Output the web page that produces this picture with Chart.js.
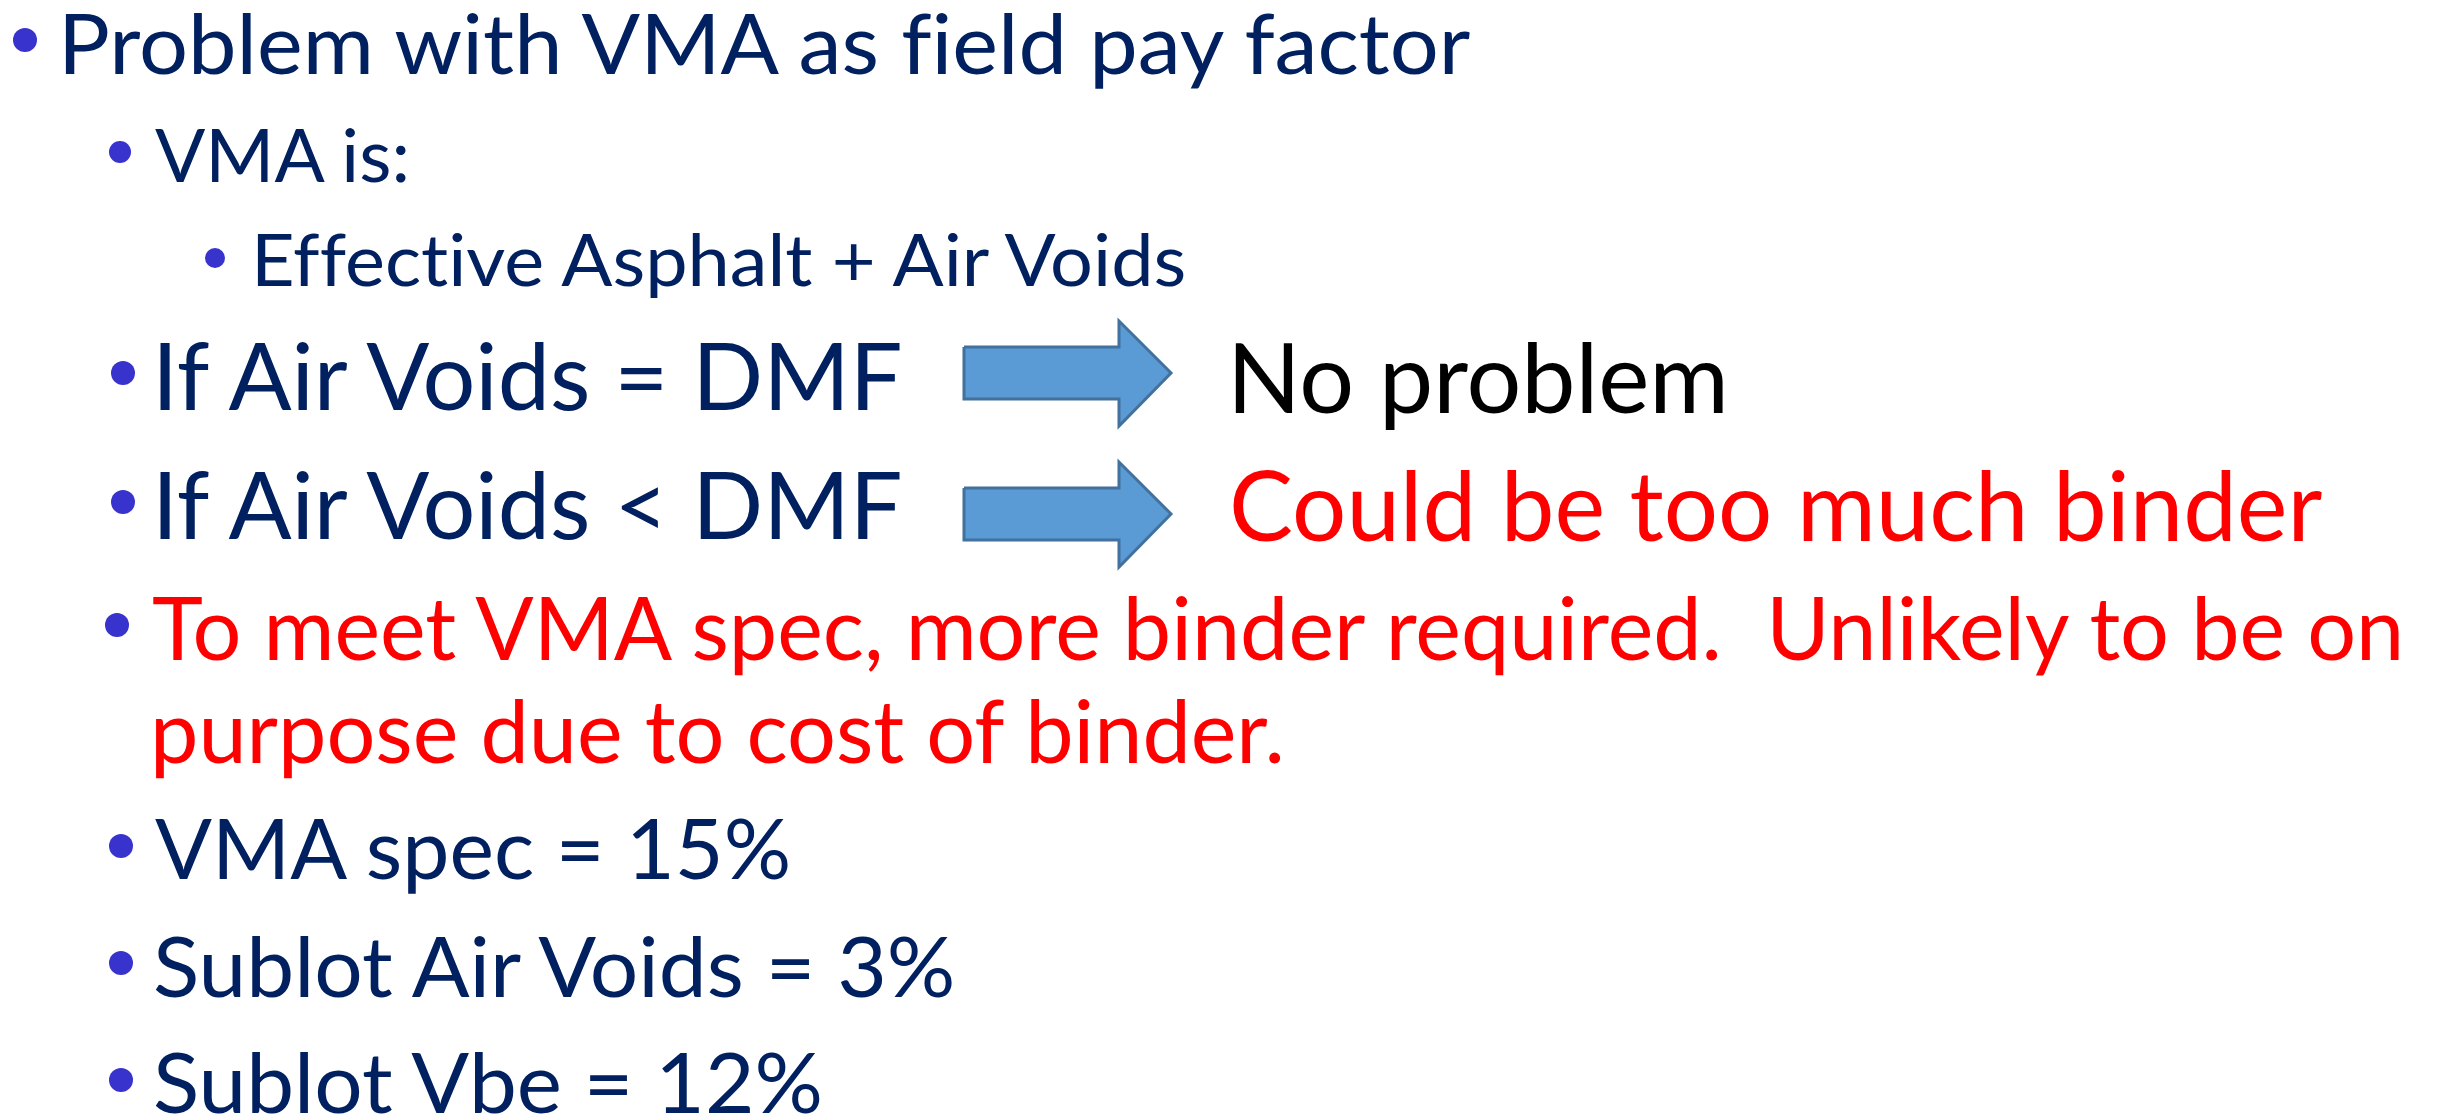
<!DOCTYPE html>
<html>
<head>
<meta charset="utf-8">
<script src="https://cdn.jsdelivr.net/npm/chart.js@4.4.1/dist/chart.umd.min.js"></script>
<style>
  html, body { margin: 0; padding: 0; background: #ffffff; overflow: hidden; }
  #diapo { position: relative; width: 2445px; height: 1116px; }
  #grafico { position: absolute; left: 0; top: 0; }
  .linea {
    position: absolute;
    font-family: Lato, "Open Sans", sans-serif;
    font-variant-ligatures: none;
    white-space: pre;
    line-height: normal;
    transform-origin: 0 0;
  }
</style>
</head>
<body>
<div id="diapo">
  <canvas id="grafico" width="2445" height="1116"></canvas>
</div>
<script>
// Textos de la diapositiva
var textos = [
  "Problem with VMA as field pay factor",
  "VMA is:",
  "Effective Asphalt + Air Voids",
  "If Air Voids = DMF",
  "If Air Voids < DMF",
  "No problem",
  "Could be too much binder",
  "To meet VMA spec, more binder required.  Unlikely to be on",
  "purpose due to cost of binder.",
  "VMA spec = 15%",
  "Sublot Air Voids = 3%",
  "Sublot Vbe = 12%"
];
var colores = ["#002060", "#002060", "#002060", "#002060", "#002060", "#000000", "#FF0000",
  "#FF0000", "#FF0000", "#002060", "#002060", "#002060"];

// Posicion de cada linea (tinta): izquierda, linea base, altura de mayusculas, ancho
var izquierda = [65, 155, 257, 160, 160, 1235, 1233, 153, 156, 155, 155, 155];
var lineaBase = [74, 182, 286, 410, 539, 413, 541, 660, 763, 879, 997, 1113];
var alturaMayus = [61, 54, 52, 68, 68, 71, 71, 63, 63, 61, 61, 61];
var anchos = [1413, 253, 935, 750, 750, 488, 1089, 2256, 1126, 636, 805, 668];

// Vinetas (x, y, diametro)
var vinetaX = [25, 120, 215, 123, 123, 117, 121, 121, 121];
var vinetaY = [40, 152, 258, 373, 502, 625, 846, 963, 1080];
var vinetaD = [24, 22, 20, 24, 24, 24, 24, 24, 24];

// Flechas: punta de cada flecha y contorno relativo
var flechaY = [373, 514];
var contornoX = [964, 1119, 1119, 1171, 1119, 1119, 964, 964];
var contornoDY = [-26, -26, -52, 0, 53, 26, 26, -26];

document.addEventListener("DOMContentLoaded", function () {
  dibujarGrafico();
  colocarTextos();
});

function dibujarGrafico() {
  var datasets = [];

  for (let i = 0; i < flechaY.length; i++) {
    var puntos = [];
    for (let j = 0; j < contornoX.length; j++) {
      puntos.push({ x: contornoX[j], y: flechaY[i] + contornoDY[j] });
    }
    datasets.push({
      data: puntos,
      showLine: true,
      fill: "shape",
      tension: 0,
      pointRadius: 0,
      borderColor: "#41719C",
      borderWidth: 3,
      backgroundColor: "#5B9BD5",
      borderJoinStyle: "miter"
    });
  }

  var vinetas = [];
  for (let i = 0; i < vinetaX.length; i++) {
    vinetas.push({ x: vinetaX[i], y: vinetaY[i] });
  }
  datasets.push({
    data: vinetas,
    showLine: false,
    pointRadius: vinetaD.map(function (d) { return d / 2; }),
    pointBorderWidth: 0,
    pointBackgroundColor: "#3833CC",
    pointBorderColor: "#3833CC"
  });

  const ctx = document.getElementById("grafico").getContext("2d");
  new Chart(ctx, {
    type: "scatter",
    data: { datasets: datasets },
    options: {
      responsive: false,
      animation: false,
      layout: { padding: 0, autoPadding: false },
      plugins: { legend: { display: false }, tooltip: { enabled: false } },
      scales: {
        x: { type: "linear", min: 0, max: 2445, display: false },
        y: { type: "linear", min: 0, max: 1116, reverse: true, display: false }
      }
    }
  });
}

function colocarTextos() {
  var diapo = document.getElementById("diapo");
  var medidor = document.createElement("canvas").getContext("2d");
  medidor.font = "100px Lato";
  var proporcion = medidor.measureText("H").actualBoundingBoxAscent / 100;

  for (let i = 0; i < textos.length; i++) {
    var tam = alturaMayus[i] / proporcion;
    medidor.font = tam + "px Lato";
    var m = medidor.measureText(textos[i]);
    var tintaIzq = -m.actualBoundingBoxLeft;
    var tintaAncho = m.actualBoundingBoxLeft + m.actualBoundingBoxRight;
    var escala = anchos[i] / tintaAncho;

    var div = document.createElement("div");
    div.className = "linea";
    div.style.fontSize = tam + "px";
    div.style.color = colores[i];

    var span = document.createElement("span");
    span.textContent = textos[i];
    div.appendChild(span);

    // marca para conocer la linea base
    var marca = document.createElement("span");
    marca.style.display = "inline-block";
    marca.style.width = "0px";
    marca.style.height = "0px";
    div.appendChild(marca);

    diapo.appendChild(div);

    var base = marca.offsetTop;
    div.style.left = (izquierda[i] - tintaIzq * escala) + "px";
    div.style.top = (lineaBase[i] - base) + "px";
    div.style.transform = "scaleX(" + escala + ")";
  }
}
</script>
</body>
</html>
